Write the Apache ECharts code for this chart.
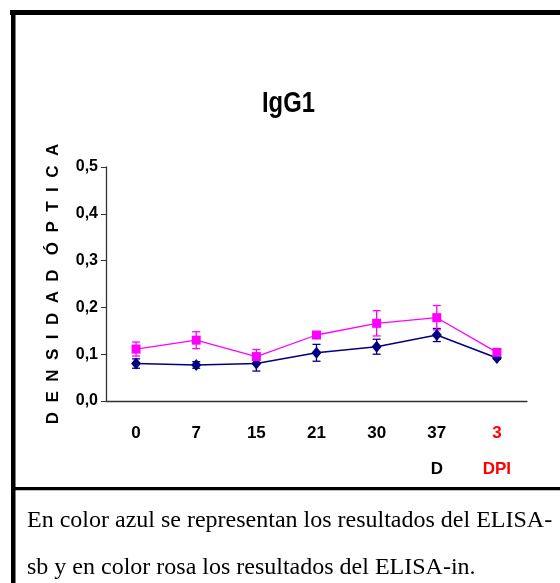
<!DOCTYPE html>
<html>
<head>
<meta charset="utf-8">
<script src="https://cdn.jsdelivr.net/npm/echarts@6/dist/echarts.min.js"></script>
<style>
  html, body { margin: 0; padding: 0; background: #fff; }
  #chart { width: 560px; height: 583px; }
</style>
</head>
<body>
<div id="chart"></div>
<script>
// Days sampled, with the second label line under the last two points
const categories = ['0', '7', '15', '21', '30', '37', '3'];
const subLabels = ['', '', '', '', '', 'D', 'DPI'];

// Mean optical density and error (±) per time point
const elisaSb = [0.080, 0.077, 0.080, 0.103, 0.116, 0.141, 0.092];
const elisaSbErr = [0.010, 0.007, 0.016, 0.018, 0.016, 0.014, 0.003];
const elisaIn = [0.111, 0.130, 0.095, 0.141, 0.166, 0.178, 0.104];
const elisaInErr = [0.015, 0.018, 0.015, 0.005, 0.027, 0.026, 0.004];

// Y axis range and step
const yMin = 0, yMax = 0.5, yStep = 0.1;

const BLUE = '#000080';
const PINK = '#ff00ff';
const SANS = "'Liberation Sans', Arial, sans-serif";
const SERIF = "'Liberation Serif', 'Times New Roman', serif";

function errorData(values, errs) {
  return values.map((v, i) => [i, v - errs[i], v + errs[i]]);
}

function errorBarSeries(values, errs, color) {
  return {
    type: 'custom',
    data: errorData(values, errs),
    encode: { x: 0, y: [1, 2] },
    z: 2,
    silent: true,
    renderItem: function (params, api) {
      const lo = api.coord([api.value(0), api.value(1)]);
      const hi = api.coord([api.value(0), api.value(2)]);
      const half = 4;
      const st = { stroke: color, lineWidth: 1.3 };
      return {
        type: 'group',
        children: [
          { type: 'line', shape: { x1: hi[0], y1: hi[1], x2: lo[0], y2: lo[1] }, style: st },
          { type: 'line', shape: { x1: hi[0] - half, y1: hi[1], x2: hi[0] + half, y2: hi[1] }, style: st },
          { type: 'line', shape: { x1: lo[0] - half, y1: lo[1], x2: lo[0] + half, y2: lo[1] }, style: st }
        ]
      };
    }
  };
}

const chart = echarts.init(document.getElementById('chart'), null, { renderer: 'canvas' });

chart.setOption({
  animation: false,
  backgroundColor: '#ffffff',
  grid: { left: 106, right: 33, top: 167, bottom: 182, containLabel: false },
  xAxis: {
    type: 'category',
    data: categories,
    boundaryGap: true,
    axisLine: { lineStyle: { color: '#333', width: 1.3 } },
    axisTick: { alignWithLabel: true, interval: 0, length: 9, lineStyle: { color: '#333' } },
    axisLabel: {
      interval: 0,
      hideOverlap: false,
      margin: 14,
      fontFamily: SANS,
      fontWeight: 'bold',
      fontSize: 17,
      lineHeight: 36,
      color: '#000',
      formatter: function (value, index) {
        const sub = subLabels[index];
        if (index === categories.length - 1) {
          return '{r|' + value + '}' + (sub ? '\n{r|' + sub + '}' : '');
        }
        return value + (sub ? '\n' + sub : '');
      },
      rich: {
        r: { color: '#ff0000', fontFamily: SANS, fontWeight: 'bold', fontSize: 17, lineHeight: 36 }
      }
    },
    splitLine: { show: false }
  },
  yAxis: {
    type: 'value',
    min: yMin,
    max: yMax,
    interval: yStep,
    name: 'D  E  N  S  I  D  A  D   Ó  P  T  I  C  A',
    nameLocation: 'middle',
    nameRotate: 90,
    nameGap: 44,
    nameTextStyle: { fontFamily: SANS, fontWeight: 'bold', fontSize: 17, color: '#000' },
    axisLine: { show: true, lineStyle: { color: '#333', width: 1.3 } },
    axisTick: { show: true, length: 5, lineStyle: { color: '#333' } },
    axisLabel: {
      margin: 8,
      fontFamily: SANS,
      fontWeight: 'bold',
      fontSize: 16,
      color: '#000',
      formatter: v => v.toFixed(1).replace('.', ',')
    },
    splitLine: { show: false }
  },
  series: [
    errorBarSeries(elisaSb, elisaSbErr, BLUE),
    {
      name: 'ELISA-sb',
      type: 'line',
      data: elisaSb,
      z: 3,
      symbol: 'diamond',
      symbolSize: [10, 12],
      lineStyle: { color: BLUE, width: 1.5 },
      itemStyle: { color: BLUE }
    },
    errorBarSeries(elisaIn, elisaInErr, PINK),
    {
      name: 'ELISA-in',
      type: 'line',
      data: elisaIn,
      z: 4,
      symbol: 'rect',
      symbolSize: 9,
      lineStyle: { color: PINK, width: 1.3 },
      itemStyle: { color: PINK }
    }
  ],
  graphic: [
    // chart title, set in a condensed bold face
    {
      type: 'text',
      x: 262, y: 89,
      scaleX: 0.82,
      style: {
        text: 'IgG1',
        font: "bold 29px " + SANS,
        fill: '#000',
        textVerticalAlign: 'top'
      }
    },
    // frame
    { type: 'rect', shape: { x: 10, y: 10, width: 550, height: 5 }, style: { fill: '#000' } },
    { type: 'rect', shape: { x: 11, y: 10, width: 4.5, height: 573 }, style: { fill: '#000' } },
    { type: 'rect', shape: { x: 11, y: 487, width: 549, height: 3.3 }, style: { fill: '#000' } },
    // caption
    {
      type: 'text',
      style: {
        x: 27, y: 509,
        text: 'En color azul se representan los resultados del ELISA-',
        font: '24px ' + SERIF,
        fill: '#000',
        textVerticalAlign: 'top'
      }
    },
    {
      type: 'text',
      style: {
        x: 27, y: 556,
        text: 'sb y en color rosa los resultados del ELISA-in.',
        font: '24px ' + SERIF,
        fill: '#000',
        textVerticalAlign: 'top'
      }
    }
  ]
});
</script>
</body>
</html>
